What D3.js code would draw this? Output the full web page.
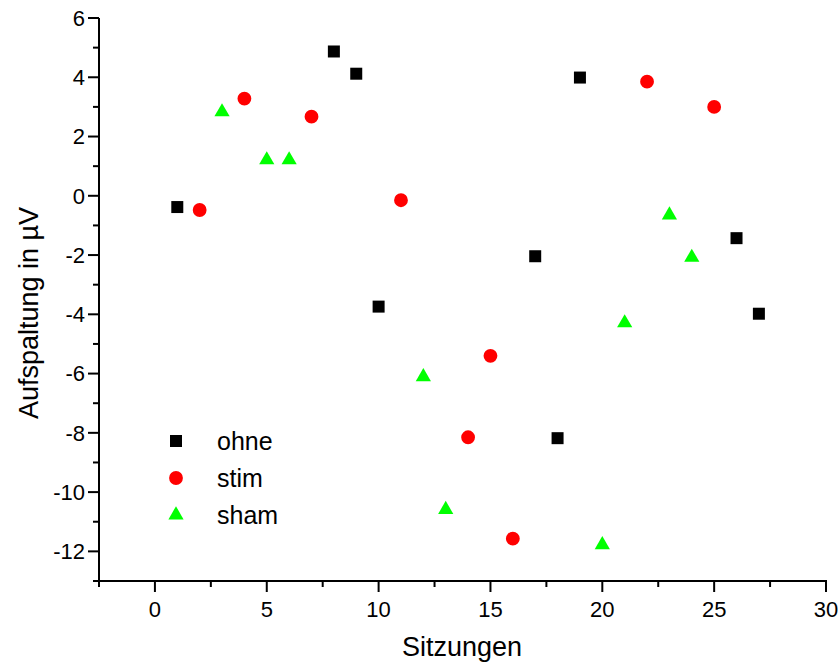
<!DOCTYPE html>
<html>
<head>
<meta charset="utf-8">
<script src="https://cdnjs.cloudflare.com/ajax/libs/d3/7.8.5/d3.min.js"></script>
<style>
  body { margin: 0; background: #fff; }
  text { font-family: Arial, "Liberation Sans", sans-serif; fill: #000; }
</style>
</head>
<body>
<div id="chart"></div>
<script>
// data
var ohneX = [1, 8, 9, 10, 17, 18, 19, 26, 27];
var ohneY = [-0.38, 4.87, 4.12, -3.74, -2.04, -8.18, 3.99, -1.43, -3.98];
var stimX = [2, 4, 7, 11, 14, 15, 16, 22, 25];
var stimY = [-0.48, 3.28, 2.67, -0.15, -8.15, -5.40, -11.57, 3.85, 3.0];
var shamX = [3, 5, 6, 12, 13, 20, 21, 23, 24];
var shamY = [2.83, 1.21, 1.21, -6.11, -10.59, -11.78, -4.29, -0.65, -2.08];
var xTicks = [0, 5, 10, 15, 20, 25, 30];
var yTicks = [6, 4, 2, 0, -2, -4, -6, -8, -10, -12];

var width = 839, height = 664;
var svg = d3.select("#chart").append("svg")
  .attr("width", width).attr("height", height);

var x = d3.scaleLinear().domain([-2.5, 30]).range([99, 826]);
var y = d3.scaleLinear().domain([-13, 6]).range([581, 18]);

// minor ticks
var xMinor = d3.range(-2.5, 30.01, 2.5).filter(function(v){ return xTicks.indexOf(v) < 0; });
var yMinor = d3.range(-13, 6.01, 1).filter(function(v){ return yTicks.indexOf(v) < 0; });

var gx = svg.append("g").attr("transform", "translate(0," + y(-13) + ")");
gx.append("line").attr("x1", x(-2.5) - 1).attr("x2", x(30) + 1).attr("stroke", "#000").attr("stroke-width", 2);
gx.selectAll(".maj").data(xTicks).enter().append("line")
  .attr("x1", d => x(d)).attr("x2", d => x(d)).attr("y1", 0).attr("y2", 11)
  .attr("stroke", "#000").attr("stroke-width", 2);
gx.selectAll(".min").data(xMinor).enter().append("line")
  .attr("x1", d => x(d)).attr("x2", d => x(d)).attr("y1", 0).attr("y2", 6)
  .attr("stroke", "#000").attr("stroke-width", 2);
gx.selectAll("text").data(xTicks).enter().append("text")
  .attr("x", d => x(d)).attr("y", 36).attr("text-anchor", "middle")
  .style("font-size", "22px").text(d => d);

var gy = svg.append("g").attr("transform", "translate(" + x(-2.5) + ",0)");
gy.append("line").attr("y1", y(-13) + 1).attr("y2", y(6)).attr("stroke", "#000").attr("stroke-width", 2);
gy.selectAll(".maj").data(yTicks).enter().append("line")
  .attr("y1", d => y(d)).attr("y2", d => y(d)).attr("x1", 0).attr("x2", -11)
  .attr("stroke", "#000").attr("stroke-width", 2);
gy.selectAll(".min").data(yMinor).enter().append("line")
  .attr("y1", d => y(d)).attr("y2", d => y(d)).attr("x1", 0).attr("x2", -6)
  .attr("stroke", "#000").attr("stroke-width", 2);
gy.selectAll("text").data(yTicks).enter().append("text")
  .attr("x", -14).attr("y", d => y(d)).attr("dy", "0.36em").attr("text-anchor", "end")
  .style("font-size", "22px").text(d => d);

// axis titles
svg.append("text").attr("x", 462).attr("y", 656).attr("text-anchor", "middle")
  .style("font-size", "27px").text("Sitzungen");
svg.append("text").attr("transform", "translate(38,313) rotate(-90)")
  .attr("text-anchor", "middle").style("font-size", "27px")
  .text("Aufspaltung in  \u00b5V");

// markers
var sq = d3.symbol().type(d3.symbolSquare).size(144);
var ci = d3.symbol().type(d3.symbolCircle).size(150);
var tr = d3.symbol().type(d3.symbolTriangle).size(100);

function draw(xs, ys, sym, col) {
  svg.append("g").selectAll("path").data(xs).enter().append("path")
    .attr("d", sym)
    .attr("transform", (d, i) => "translate(" + x(d) + "," + y(ys[i]) + ")")
    .attr("fill", col);
}
draw(ohneX, ohneY, sq, "#000000");
draw(stimX, stimY, ci, "#ff0000");
draw(shamX, shamY, tr, "#00ff00");

// legend
var legend = [["ohne", sq, "#000000"], ["stim", ci, "#ff0000"], ["sham", tr, "#00ff00"]];
var lg = svg.append("g");
legend.forEach(function(l, i) {
  var ly = 441 + i * 37;
  lg.append("path").attr("d", l[1]).attr("fill", l[2])
    .attr("transform", "translate(176," + ly + ")");
  lg.append("text").attr("x", 217).attr("y", ly).attr("dy", "0.36em")
    .style("font-size", "25px").text(l[0]);
});
</script>
</body>
</html>
